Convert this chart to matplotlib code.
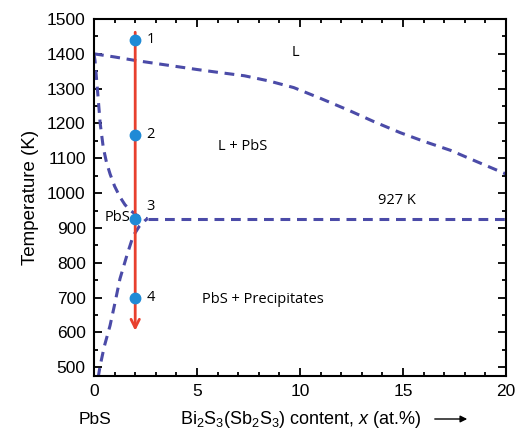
import matplotlib
matplotlib.use("Agg")
import matplotlib.pyplot as plt
from matplotlib.ticker import MultipleLocator

plt.rcParams['font.family'] = ['Liberation Sans', 'DejaVu Sans']
plt.rcParams['mathtext.fontset'] = 'custom'
plt.rcParams['mathtext.rm'] = 'Liberation Sans'
plt.rcParams['mathtext.it'] = 'Liberation Sans:italic'

# Data
liq_x = [0, 1, 2, 3.5, 5, 6, 7.3, 8.5, 9.7, 11, 12.4, 13.6, 14.85, 16, 17.3, 18.6, 20]
liq_T = [1400, 1391, 1381, 1368, 1355, 1347, 1337, 1322, 1303, 1272, 1237, 1205, 1174, 1149, 1123, 1090, 1055]
sol_x = [0, 0.05, 0.12, 0.2, 0.3, 0.45, 0.6, 0.78, 1.0, 1.26, 1.5, 1.75, 2.0, 2.23, 2.45, 2.6]
sol_T = [1400, 1380, 1330, 1274, 1200, 1131, 1090, 1055, 1020, 989, 967, 951, 940, 931, 928, 927]
solv_x = [0.2, 0.3, 0.5, 0.78, 1.0, 1.26, 1.6, 1.9, 2.2, 2.45, 2.6]
solv_T = [470, 505, 560, 620, 680, 754, 822, 877, 905, 920, 927]
eut_x = [2.6, 20]
eut_T = [927, 927]
path_x = 2
path_T_start, path_T_end = 1470, 597
pt_T = [1440, 1168, 927, 700]
pt_labels = ['1', '2', '3', '4']

fig = plt.figure(figsize=(5.18, 4.30), dpi=100)
ax = fig.add_axes([94/518, 1-376/430, 412/518, 357/430])

dash_c = '#4b4ba8'
dash_kw = dict(color=dash_c, lw=2.2, ls=(0, (3.2, 2.2)))
ax.plot(liq_x, liq_T, **dash_kw)
ax.plot(sol_x, sol_T, **dash_kw)
ax.plot(solv_x, solv_T, **dash_kw)
ax.plot(eut_x, eut_T, **dash_kw)

red = '#e8402e'
ax.annotate('', xy=(path_x, path_T_end), xytext=(path_x, path_T_start),
            arrowprops=dict(arrowstyle='->,head_length=0.6,head_width=0.3', color=red, lw=2.0))
ax.plot([path_x]*len(pt_T), pt_T, 'o', color='#1f8ad6', ms=7.5, zorder=5)
for T, lab in zip(pt_T, pt_labels):
    dy = 35 if lab == '3' else 0
    ax.text(path_x + 0.55, T + dy, lab, fontsize=10.5, family=['Open Sans', 'DejaVu Sans'],
            ha='left', va='center')

tf = dict(fontsize=10.5, family=['Open Sans', 'DejaVu Sans'], ha='center', va='center')
ax.text(9.8, 1405, 'L', **tf)
ax.text(7.2, 1135, 'L + PbS', **tf)
ax.text(14.7, 978, '927 K', **tf)
ax.text(8.2, 695, 'PbS + Precipitates', **tf)
ax.text(1.15, 930, 'PbS', **tf)

ax.set_xlim(0, 20)
ax.set_ylim(475, 1500)
ax.xaxis.set_major_locator(MultipleLocator(5))
ax.xaxis.set_minor_locator(MultipleLocator(1))
ax.yaxis.set_major_locator(MultipleLocator(100))
ax.yaxis.set_minor_locator(MultipleLocator(50))
ax.tick_params(which='both', direction='in', top=True, right=True, width=1.3)
ax.tick_params(which='major', length=6, labelsize=12.5, pad=6)
ax.tick_params(which='minor', length=3)
ax.tick_params(axis='x', which='both', top=True, labeltop=False)
for s in ax.spines.values():
    s.set_linewidth(1.5)

ax.set_ylabel('Temperature (K)', fontsize=13.5, labelpad=6)

fig.text(95/518, 1-419/430, 'PbS', fontsize=12.5, ha='center', va='center')
fig.text(180/518, 1-419/430, r'Bi$_2$S$_3$(Sb$_2$S$_3$) content, $\mathit{x}$ (at.%)',
         fontsize=13, ha='left', va='center')
fig.add_artist(matplotlib.patches.FancyArrowPatch((432/518, 1-419/430), (470/518, 1-419/430),
               transform=fig.transFigure, arrowstyle='-|>,head_length=4,head_width=2',
               color='black', lw=1.0))

fig.savefig('out.png', dpi=100)
